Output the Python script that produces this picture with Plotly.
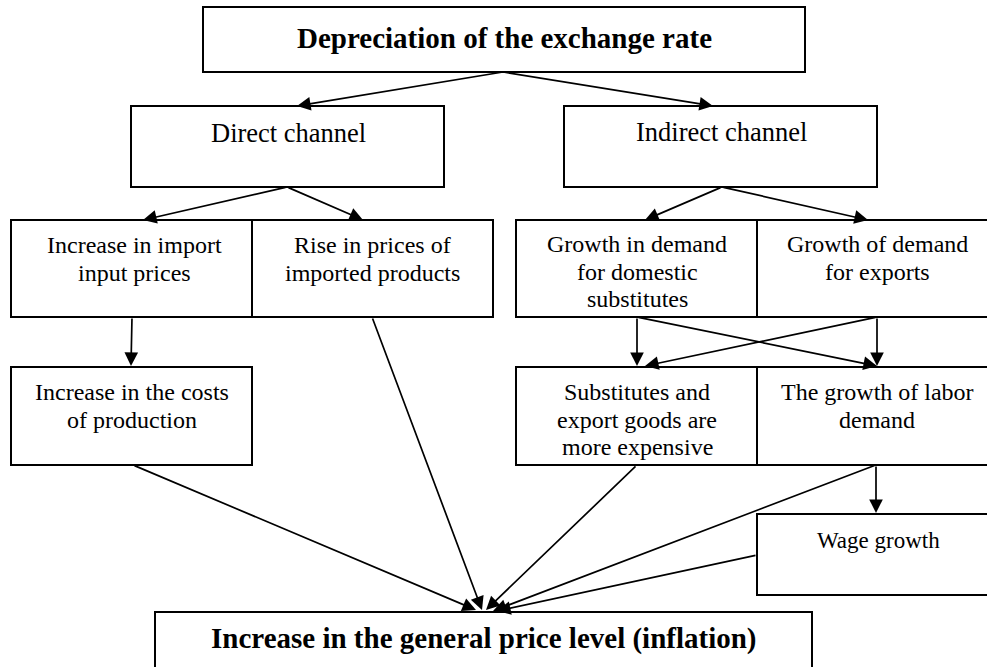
import plotly.graph_objects as go

# ---- content (text of each node) ----
title_text = "Depreciation of the exchange rate"
channel_labels = ["Direct channel", "Indirect channel"]
direct_labels = [["Increase in import", "input prices"],
                 ["Rise in prices of", "imported products"]]
indirect_labels = [["Growth in demand", "for domestic", "substitutes"],
                   ["Growth of demand", "for exports"]]
level4_labels = [["Increase in the costs", "of production"],
                 ["Substitutes and", "export goods are", "more expensive"],
                 ["The growth of labor", "demand"]]
wage_label = ["Wage growth"]
final_text = "Increase in the general price level (inflation)"

# ---- layout geometry (pixel space of the 987x667 canvas) ----
W, H = 987, 667
FONT = "Liberation Serif, Times New Roman, serif"

nodes = [
    # (x0, y0, x1, y1, lines, text_cx, first_line_cy, line_gap, size, bold)
    (203, 7, 805, 72, [title_text], 504, 38, 0, 29, True),
    (131, 106, 444, 187, [channel_labels[0]], 288, 133, 0, 26.5, False),
    (564, 106, 877, 187, [channel_labels[1]], 721, 132, 0, 26.5, False),
    (11, 220, 252, 317, direct_labels[0], 134, 245, 28, 24, False),
    (252, 220, 493, 317, direct_labels[1], 372, 245, 28, 24, False),
    (516, 220, 757, 317, indirect_labels[0], 637, 244, 27.5, 24, False),
    (757, 220, 997, 317, indirect_labels[1], 877, 244, 27.5, 24, False),
    (11, 367, 252, 465, level4_labels[0], 132, 392, 27.5, 24, False),
    (516, 367, 757, 465, level4_labels[1], 637, 392, 27.5, 24, False),
    (757, 367, 997, 465, level4_labels[2], 877, 392, 27.5, 24, False),
    (757, 514, 997, 595, wage_label, 878, 540, 0, 23, False),
    (155, 612, 812, 690, [final_text], 484, 638, 0, 29, True),
]

# arrows: (tail_x, tail_y, tip_x, tip_y)
arrows = [
    (503, 72, 297, 106), (503, 72, 713, 106),
    (287, 187, 143, 220), (287, 187, 363, 220),
    (722, 187, 645, 220), (722, 187, 868, 220),
    (132, 317, 131, 366),
    (637, 317, 637, 366), (637, 317, 877, 366),
    (877, 317, 877, 366), (877, 317, 645, 366),
    (876, 465, 876, 513),
    (133, 465, 476, 610), (372, 317, 482, 610),
    (637, 465, 486, 610), (876, 465, 493, 611),
    (757, 555, 497, 611),
]

fig = go.Figure()
fig.add_trace(go.Scatter(x=[0, W], y=[0, H], mode="markers",
                         marker=dict(opacity=0), hoverinfo="skip",
                         showlegend=False))

shapes = []
annotations = []
for (x0, y0, x1, y1, lines, cx, cy, gap, size, bold) in nodes:
    shapes.append(dict(type="rect", xref="x", yref="y", x0=x0, y0=y0,
                       x1=x1, y1=y1, line=dict(color="black", width=2),
                       fillcolor="white", layer="below"))
    for i, ln in enumerate(lines):
        txt = f"<b>{ln}</b>" if bold else ln
        annotations.append(dict(x=cx, y=cy + i * gap, xref="x", yref="y",
                                text=txt, showarrow=False,
                                xanchor="center", yanchor="middle",
                                font=dict(family=FONT, size=size,
                                          color="black")))

for (tx, ty, hx, hy) in arrows:
    annotations.append(dict(x=hx, y=hy, ax=tx, ay=ty, xref="x", yref="y",
                            axref="x", ayref="y", text="", showarrow=True,
                            arrowhead=2, arrowsize=1.6, arrowwidth=1.7,
                            arrowcolor="black", standoff=0))

fig.update_layout(
    width=W, height=H,
    margin=dict(l=0, r=0, t=0, b=0),
    paper_bgcolor="white", plot_bgcolor="white",
    xaxis=dict(range=[0, W], visible=False, fixedrange=True),
    yaxis=dict(range=[H, 0], visible=False, fixedrange=True),
    shapes=shapes, annotations=annotations, showlegend=False,
    hovermode=False,
)

fig.write_html("out.html",
               config={"displayModeBar": False, "staticPlot": True},
               post_script="document.body.style.margin='0';"
                           "document.body.style.overflow='hidden';")
